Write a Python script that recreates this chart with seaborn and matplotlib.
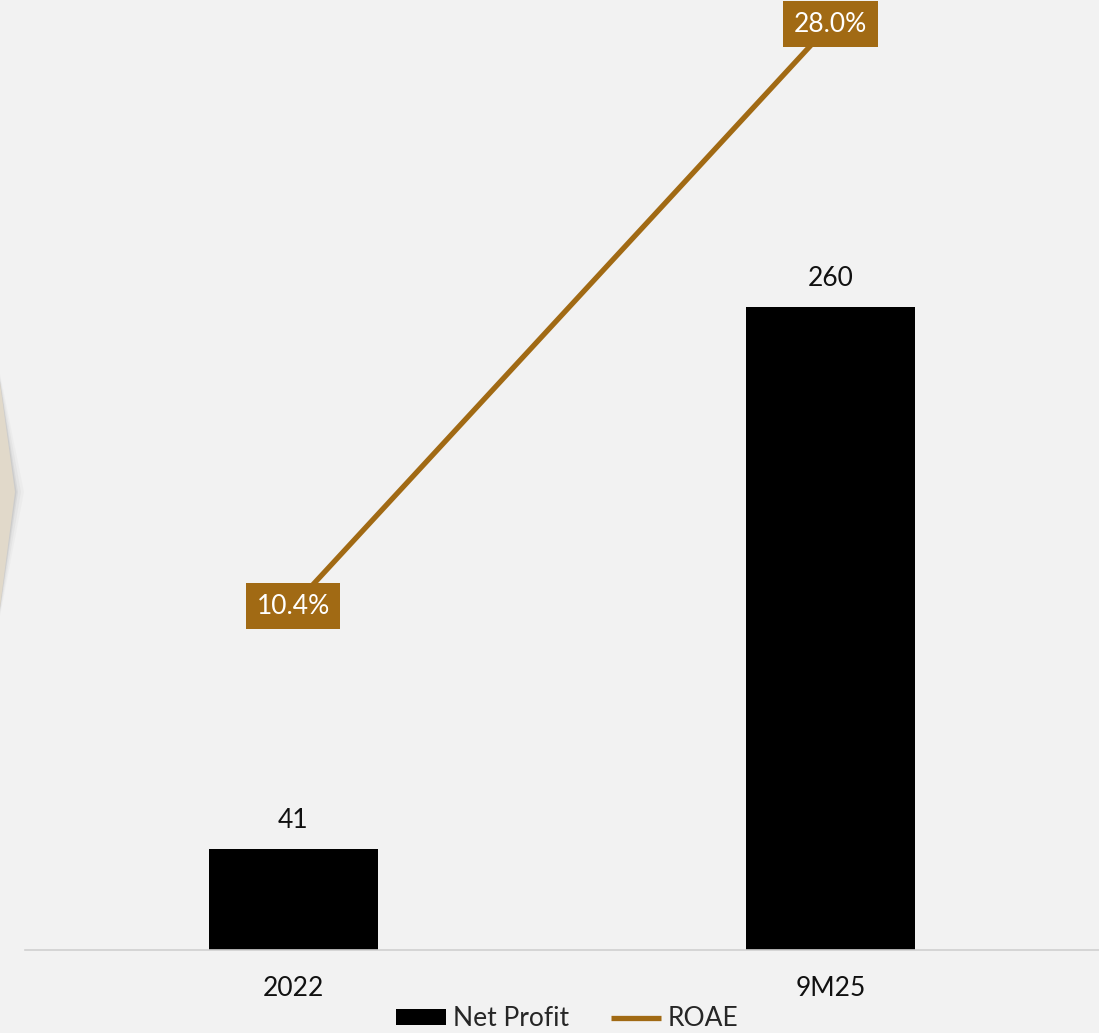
import matplotlib
matplotlib.use("Agg")
import matplotlib.pyplot as plt
from matplotlib.patches import Polygon, Patch
from matplotlib.lines import Line2D
import seaborn as sns
import pandas as pd

periods = ["2022", "9M25"]
net_profit = [41, 260]
roae = [10.4, 28.0]

bg = "#F2F2F2"
brown = "#A16A14"
fs = 19

sns.set_theme(style="white")
plt.rcParams["font.family"] = ["Lato", "DejaVu Sans"]

fig = plt.figure(figsize=(10.99, 10.33), dpi=100, facecolor=bg)


def px(x, y):
    return (x / 1099, 1 - y / 1033)


# beige arrow shape peeking in on the left, with a soft shadow
for d, a in [(9, 0.04), (6, 0.06), (3, 0.09), (1.5, 0.12)]:
    fig.patches.append(Polygon([px(0, 383 - d), px(15 + d, 492), px(0, 607 + d)],
                               closed=True, transform=fig.transFigure, facecolor="#707070",
                               edgecolor="none", alpha=a))
fig.patches.append(Polygon([px(0, 383), px(15, 492), px(0, 607)],
                           closed=True, transform=fig.transFigure, facecolor="#E1D9CA", edgecolor="none"))

ax = fig.add_axes([24.5 / 1099, 83 / 1033, 1 - 24.5 / 1099, 950 / 1033])
ax.set_facecolor("none")

df = pd.DataFrame({"period": periods, "Net Profit": net_profit})
sns.barplot(data=df, x="period", y="Net Profit", color="black", width=0.315,
            saturation=1, edgecolor="none", linewidth=0, ax=ax)
ax.bar_label(ax.containers[0], labels=[str(v) for v in net_profit], padding=11,
             fontsize=fs, color="#111111")
ax.set_xlim(-0.5, 1.5)
ax.set_ylim(0, 384)
ax.set_xlabel("")
ax.set_ylabel("")
ax.set_yticks([])
ax.tick_params(axis="x", length=0, labelsize=fs, labelcolor="#111111", pad=19)
for s in ["top", "right", "left"]:
    ax.spines[s].set_visible(False)
ax.spines["bottom"].set_color("#D0D0D0")
ax.spines["bottom"].set_linewidth(1.2)

ax2 = ax.twinx()
sns.lineplot(x=[0, 1], y=roae, color=brown, linewidth=3.8, ax=ax2)
ax2.set_ylim(0, 28.73)
ax2.set_yticks([])
for s in ax2.spines.values():
    s.set_visible(False)
for i, v in enumerate(roae):
    ax2.text(i, v, f"{v:.1f}%", ha="center", va="center", fontsize=fs, color="white",
             bbox=dict(boxstyle="square,pad=0.4", facecolor=brown, edgecolor="none"))

handles = [Patch(facecolor="black", edgecolor="none", label="Net Profit"),
           Line2D([0], [0], color=brown, linewidth=3.8, solid_capstyle="butt", label="ROAE")]
fig.legend(handles=handles, loc="center", bbox_to_anchor=(567 / 1099, 1 - 1019 / 1033),
           ncol=2, frameon=False, fontsize=fs, handlelength=1.9, handletextpad=0.25,
           columnspacing=1.6, handleheight=0.55, borderpad=0)

fig.savefig("out.png", dpi=100, facecolor=bg)
